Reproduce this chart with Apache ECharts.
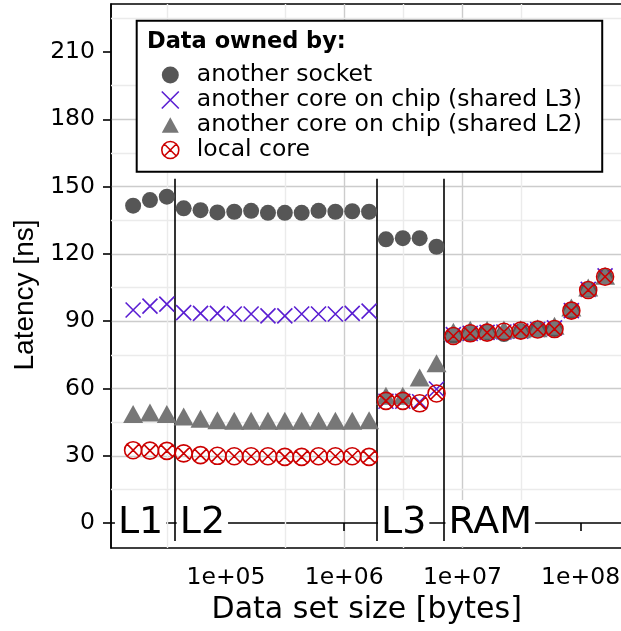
<!DOCTYPE html>
<html>
<head>
<meta charset="utf-8">
<script src="https://cdn.jsdelivr.net/npm/echarts@6/dist/echarts.min.js"></script>
<style>
  html, body { margin: 0; padding: 0; background: #ffffff; }
  #chart { width: 621px; height: 631px; }
</style>
</head>
<body>
<div id="chart"></div>
<script>
// Working-set sizes (bytes) of each measurement
const sizes = [16384, 22750, 31590, 43870, 60920, 84600, 117500, 163200, 226600, 314700,
  436900, 606700, 842500, 1170000, 1624000, 2256000, 3133000, 4350000, 6041000, 8389000,
  11650000, 16180000, 22460000, 31190000, 43320000, 60150000, 83530000, 116000000, 161100000];

// Latency in ns for each owner of the data
const anotherSocket = [141.5, 144, 145.5,
  140.3, 139.5, 138.5, 138.8, 139.2, 138.3, 138.3, 138.3, 139.2, 138.8, 139, 138.8,
  126.5, 127, 127, 123.2,
  83.5, 84.5, 85, 84.3, 85.5, 86.3, 86.5, 94.7, 104, 109.8];
const sharedL3 = [95, 96.7, 97.6,
  93.8, 93.5, 93.5, 93.2, 93.2, 92.4, 92.4, 93.2, 93.2, 93.2, 93.5, 94.5,
  54.3, 54.3, 54.1, 59.8,
  84, 84.6, 85, 85.2, 85.6, 86.3, 87, 94.7, 104.2, 110.2];
const sharedL2 = [47.3, 48, 47.3,
  46.2, 45.2, 44.5, 44.3, 44.3, 44.3, 44.3, 44.3, 44.3, 44.3, 44.3, 44.5,
  55.4, 55.4, 63.6, 69.9,
  84, 84.8, 84.8, 85, 85.1, 85.5, 86.6, 94.8, 103.7, 108.9];
const localCore = [32.5, 32.3, 32.2,
  31.1, 30.3, 30, 29.8, 29.8, 29.8, 29.5, 29.5, 29.8, 29.8, 29.8, 29.5,
  54.5, 54.5, 53.4, 57.8,
  83.4, 84.6, 84.9, 85.3, 85.8, 86.3, 86.5, 94.7, 103.9, 109.8];

const seriesNames = ['another socket', 'another core on chip (shared L3)',
  'another core on chip (shared L2)', 'local core'];

// Memory hierarchy boundaries and their labels
const cacheBounds = [36800, 1869000, 6947000];
const boundSpan = [-8, 153.5];
const regionNames = ['L1', 'L2', 'L3', 'RAM'];
const regionStarts = [11500, 38300, 1932000, 7190000];

// Axis ticks
const xTickValues = [1e5, 1e6, 1e7, 1e8];
const xTickLabels = ['1e+05', '1e+06', '1e+07', '1e+08'];
const xMinorValues = [31623, 316228, 3162278, 31622777];
const yTickValues = [0, 30, 60, 90, 120, 150, 180, 210];
const yMinorValues = [15, 45, 75, 105, 135, 165, 195, 225];

const FONT = 'DejaVu Sans';
const DOT = 'path://M10,5A5,5,0,1,1,0,5A5,5,0,1,1,10,5Z';
const CROSS = 'path://M0,0L10,10M10,0L0,10';
const CIRCLE_CROSS = 'path://M10,5A5,5,0,1,1,0,5A5,5,0,1,1,10,5ZM1.46,1.46L8.54,8.54M8.54,1.46L1.46,8.54';
const TRIANGLE = 'path://M5,0L10,9L0,9Z';

const pts = vals => sizes.map((s, i) => [s, vals[i]]);

// Only label values that sit on one of the decade ticks
function decadeLabel(v) {
  for (let i = 0; i < xTickValues.length; i++) {
    if (Math.abs(Math.log10(xTickValues[i]) - Math.log10(v)) < 0.01) return xTickLabels[i];
  }
  return '';
}

const chart = echarts.init(document.getElementById('chart'), null, { renderer: 'canvas' });

chart.setOption({
  animation: false,
  backgroundColor: '#ffffff',
  textStyle: { fontFamily: FONT },
  grid: {
    left: 111, top: 4, right: -1.5, bottom: 83,
    show: true, backgroundColor: '#ffffff', borderColor: '#000000', borderWidth: 1.5,
    containLabel: false, outerBoundsMode: 'none'
  },
  title: {
    text: 'Data owned by:',
    left: 147, top: 29, padding: 0, z: 10,
    textStyle: { fontFamily: FONT, fontSize: 22.5, fontWeight: 'bold', color: '#000', lineHeight: 26 }
  },
  legend: {
    orient: 'vertical',
    left: 136.7, top: 20.7, z: 8,
    padding: [41.8, 20.3, 9.2, 24.3],
    itemWidth: 17, itemHeight: 17, itemGap: 0,
    symbolKeepAspect: true,
    borderColor: '#000', borderWidth: 2, backgroundColor: '#ffffff',
    selectedMode: false,
    textStyle: { fontFamily: FONT, fontSize: 23.5, color: '#000', lineHeight: 25, padding: [0, 0, 0, 13] },
    data: [
      { name: seriesNames[0], icon: DOT, itemStyle: { color: '#565656', borderWidth: 0, opacity: 1 } },
      { name: seriesNames[1], icon: CROSS, itemStyle: { borderWidth: 1.6 } },
      { name: seriesNames[2], icon: TRIANGLE, itemStyle: { color: '#777777', borderWidth: 0, opacity: 1 } },
      { name: seriesNames[3], icon: CIRCLE_CROSS, itemStyle: { borderWidth: 1.6 } }
    ]
  },
  xAxis: {
    type: 'log', logBase: 10,
    min: 10650, max: 2.262e8,
    name: 'Data set size [bytes]', nameLocation: 'middle', nameGap: 38,
    nameTextStyle: { fontFamily: FONT, fontSize: 30, color: '#000' },
    axisLine: { show: true, lineStyle: { color: '#000', width: 1.5 } },
    axisTick: { show: true, length: 8, lineStyle: { color: '#000', width: 1.6 }, customValues: xTickValues },
    axisLabel: {
      customValues: xTickValues, margin: 18.3,
      fontFamily: FONT, fontSize: 23.5, color: '#000',
      formatter: decadeLabel
    },
    splitLine: { show: true, showMinLine: false, showMaxLine: false, lineStyle: { color: '#cccccc', width: 1.4 } }
  },
  yAxis: {
    type: 'value',
    min: -11.1, max: 231.4, splitNumber: 8,
    name: 'Latency [ns]', nameLocation: 'middle', nameGap: 70,
    nameTextStyle: { fontFamily: 'Liberation Sans', fontSize: 28, color: '#000', padding: [0, 38, 0, 0] },
    axisLine: { show: true, lineStyle: { color: '#000', width: 1.5 } },
    axisTick: { show: true, length: 8, lineStyle: { color: '#000', width: 1.6 }, customValues: yTickValues },
    axisLabel: { customValues: yTickValues, margin: 16, fontFamily: FONT, fontSize: 23.5, color: '#000' },
    splitLine: { show: true, showMinLine: false, showMaxLine: false, lineStyle: { color: '#cccccc', width: 1.4 } }
  },
  series: [
    {
      name: 'minor grid', type: 'scatter', data: [], silent: true, z: 1,
      markLine: {
        silent: true, z: 1, symbol: ['none', 'none'], label: { show: false },
        lineStyle: { color: '#ebebeb', width: 1.4, type: 'solid' },
        emphasis: { disabled: true },
        data: [].concat(yMinorValues.map(v => ({ yAxis: v })), xMinorValues.map(v => ({ xAxis: v })))
      }
    },
    {
      name: 'bounds', type: 'scatter', data: [], silent: true, z: 1,
      markLine: {
        silent: true, z: 1.5, symbol: ['none', 'none'], label: { show: false },
        lineStyle: { color: '#000', width: 1.6, type: 'solid' },
        emphasis: { disabled: true },
        data: cacheBounds.map(b => [{ coord: [b, boundSpan[0]] }, { coord: [b, boundSpan[1]] }])
      }
    },
    {
      name: seriesNames[0], type: 'scatter', data: pts(anotherSocket),
      symbol: 'circle', symbolSize: 16,
      itemStyle: { color: '#565656', opacity: 1 }
    },
    {
      name: seriesNames[1], type: 'scatter', data: pts(sharedL3),
      symbol: CROSS, symbolSize: 15,
      itemStyle: { color: '#5a1ed2', borderColor: '#5a1ed2', borderWidth: 1.6, opacity: 1 }
    },
    {
      name: seriesNames[2], type: 'scatter', data: pts(sharedL2),
      symbol: 'triangle', symbolSize: [20, 18], symbolOffset: [0, -3],
      itemStyle: { color: '#777777', opacity: 1 }
    },
    {
      name: seriesNames[3], type: 'scatter', data: pts(localCore),
      symbol: CIRCLE_CROSS, symbolSize: 17,
      itemStyle: { color: 'rgba(0,0,0,0)', borderColor: '#cc0000', borderWidth: 1.6, opacity: 1 }
    },
    {
      name: 'regions', type: 'scatter', silent: true, z: 3,
      data: regionNames.map((n, i) => [regionStarts[i], 0, n]),
      symbolSize: 0,
      label: {
        show: true, position: 'right', distance: 0,
        formatter: p => p.data[2],
        fontFamily: FONT, fontSize: 38, color: '#000000', opacity: 1, lineHeight: 40,
        backgroundColor: '#ffffff', padding: [3, 3, 3, 3]
      }
    }
  ]
});
</script>
</body>
</html>
